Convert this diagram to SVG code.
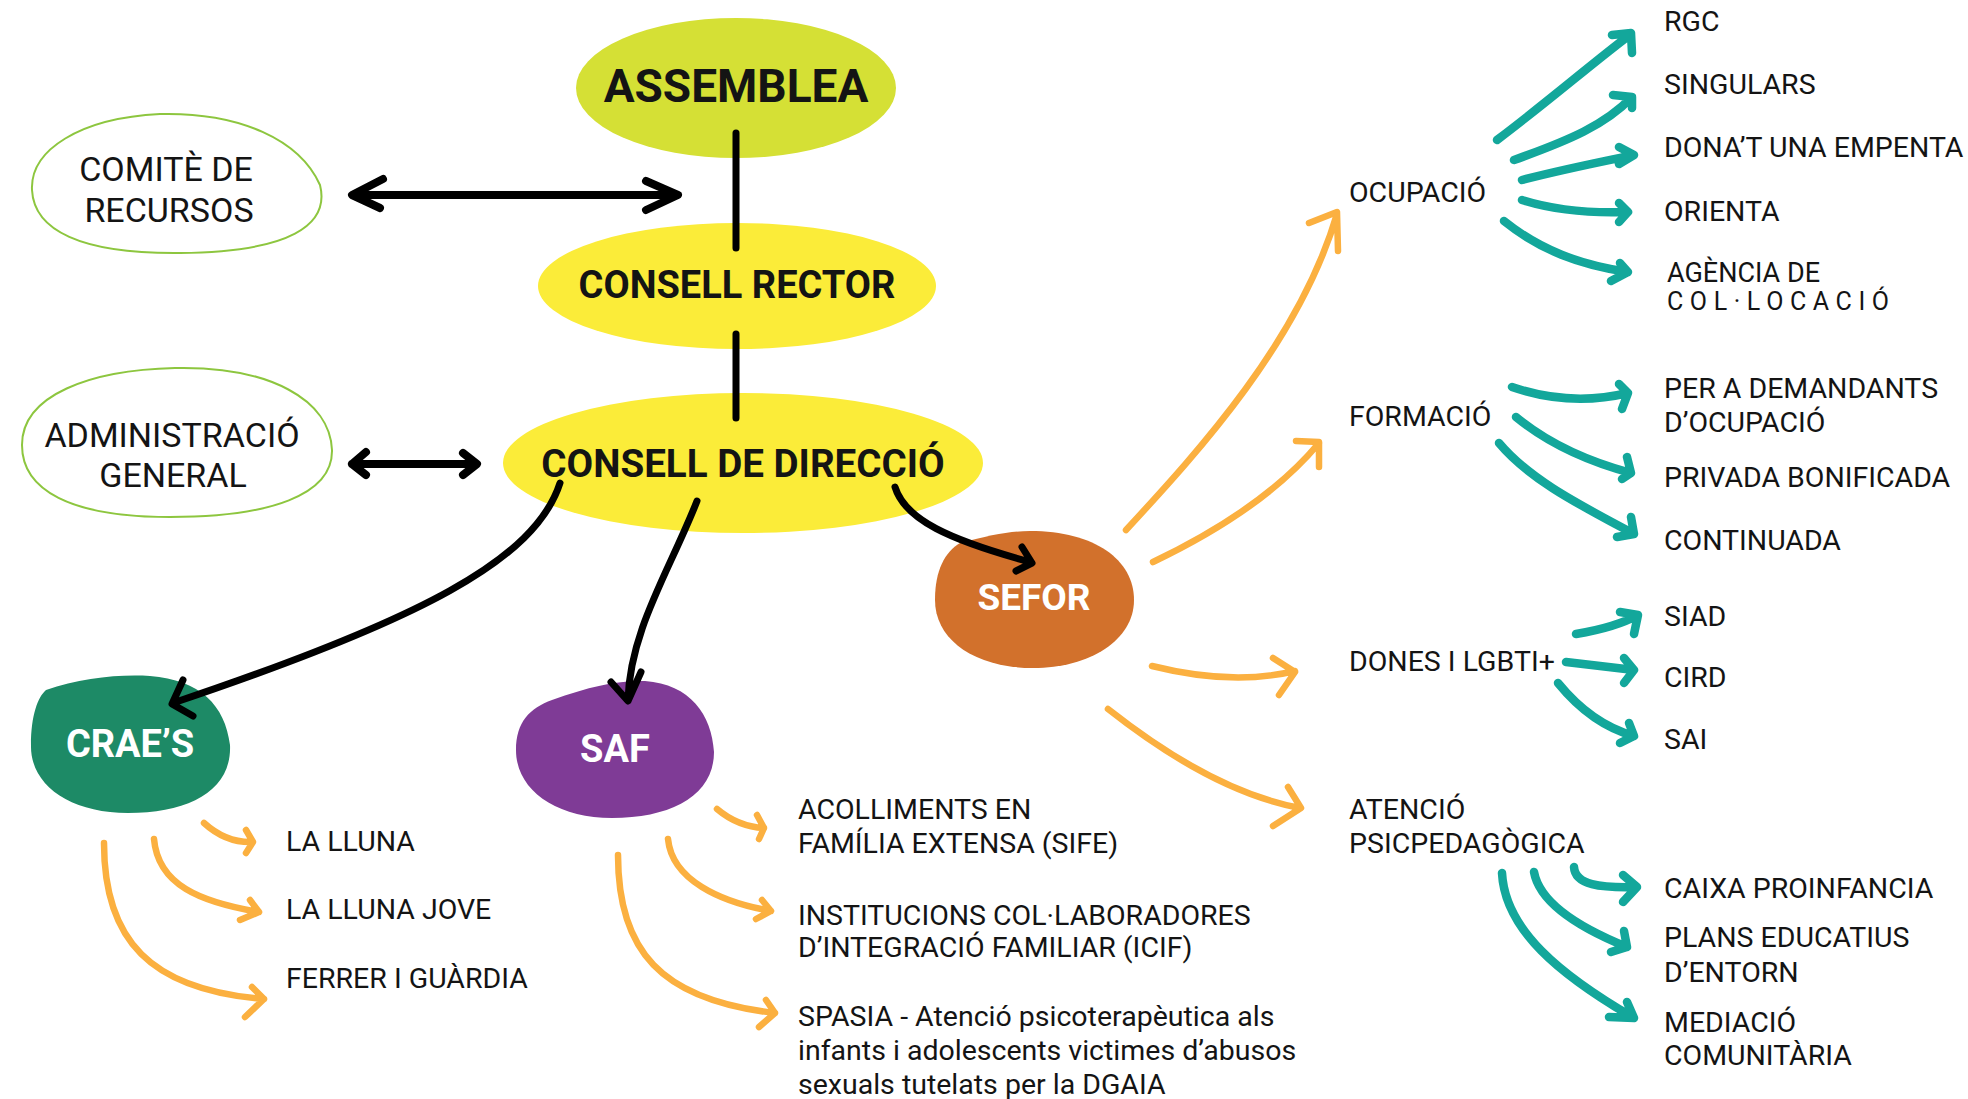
<svg xmlns="http://www.w3.org/2000/svg" width="1968" height="1099" viewBox="0 0 1968 1099">
<style>
text{font-family:Roboto,"Liberation Sans",sans-serif;fill:#141414}
.r{font-size:28.5px}
.b{font-weight:700;text-anchor:middle}
.c{font-weight:400;text-anchor:middle;font-size:34px}
.w{fill:#fff}
.ln{fill:none;stroke-linecap:round;stroke-linejoin:round}
.k{stroke:#000;stroke-width:7}
.o{stroke:#fbb040;stroke-width:6.5}
.t{stroke:#13a79b;stroke-width:8.5}
.out{fill:#fff;stroke:#8dc63f;stroke-width:2}
</style>
<rect width="1968" height="1099" fill="#fff"/>
<g id="assemblea"><ellipse cx="736" cy="88" rx="160" ry="70" fill="#d5e035"/><text class="b" x="736" y="102" font-size="46">ASSEMBLEA</text></g>
<g id="consell-rector"><ellipse cx="737" cy="286" rx="199" ry="63" fill="#fbec39"/><text class="b" x="737" y="298" font-size="38">CONSELL RECTOR</text></g>
<g id="consell-direccio"><ellipse cx="743" cy="463" rx="240" ry="70" fill="#fbec39"/><text class="b" x="743" y="477" font-size="38.6">CONSELL DE DIRECCIÓ</text></g>
<g id="comite"><path class="out" d="M32,190 C30,150 80,118 160,114 C240,112 300,140 320,185 C330,225 290,252 180,253 C80,254 34,230 32,190 Z"/><text class="c" x="166" y="181">COMITÈ DE</text><text class="c" x="169" y="222">RECURSOS</text></g>
<g id="administracio"><path class="out" d="M22,445 C22,395 90,370 175,368 C270,366 330,400 332,450 C333,495 270,517 170,517 C70,517 22,490 22,445 Z"/><text class="c" x="172" y="447">ADMINISTRACIÓ</text><text class="c" x="173" y="487">GENERAL</text></g>
<g id="sefor"><path d="M960,543 C990,535 1010,531 1030,531 C1095,531 1134,560 1134,600 C1134,640 1090,668 1033,668 C975,668 935,640 935,600 C935,570 945,552 960,543 Z" fill="#d2712c"/><text class="b w" x="1034" y="610" font-size="37">SEFOR</text></g>
<g id="craes"><path d="M46,690 C80,678 120,674 150,676 C200,680 225,705 230,745 C232,790 190,813 128,813 C70,813 30,785 31,745 C31,715 38,697 46,690 Z" fill="#1d8a66"/><text class="b w" x="130" y="757" font-size="38">CRAE’S</text></g>
<g id="saf"><path d="M552,700 C590,686 620,680 645,681 C690,684 712,715 714,752 C714,795 672,818 612,818 C556,818 516,790 516,750 C516,722 530,708 552,700 Z" fill="#7f3b96"/><text class="b w" x="615" y="762" font-size="38">SAF</text></g>
<g id="labels" class="r">
<text x="1664" y="31">RGC</text>
<text x="1664" y="94">SINGULARS</text>
<text x="1664" y="157">DONA’T UNA EMPENTA</text>
<text x="1664" y="221">ORIENTA</text>
<text x="1667" y="282" font-size="27">AGÈNCIA DE</text>
<text x="1667" y="310" font-size="25" letter-spacing="6.6">COL·LOCACIÓ</text>
<text x="1349" y="202">OCUPACIÓ</text>
<text x="1349" y="426">FORMACIÓ</text>
<text x="1664" y="398">PER A DEMANDANTS</text>
<text x="1664" y="432">D’OCUPACIÓ</text>
<text x="1664" y="487">PRIVADA BONIFICADA</text>
<text x="1664" y="550">CONTINUADA</text>
<text x="1349" y="671">DONES I LGBTI+</text>
<text x="1664" y="626">SIAD</text>
<text x="1664" y="687">CIRD</text>
<text x="1664" y="749">SAI</text>
<text x="1349" y="819">ATENCIÓ</text>
<text x="1349" y="853">PSICPEDAGÒGICA</text>
<text x="1664" y="898">CAIXA PROINFANCIA</text>
<text x="1664" y="947">PLANS EDUCATIUS</text>
<text x="1664" y="982">D’ENTORN</text>
<text x="1664" y="1032">MEDIACIÓ</text>
<text x="1664" y="1065">COMUNITÀRIA</text>
<text x="286" y="851">LA LLUNA</text>
<text x="286" y="919">LA LLUNA JOVE</text>
<text x="286" y="988">FERRER I GUÀRDIA</text>
<text x="798" y="819">ACOLLIMENTS EN</text>
<text x="798" y="853">FAMÍLIA EXTENSA (SIFE)</text>
<text x="798" y="925">INSTITUCIONS COL·LABORADORES</text>
<text x="798" y="957">D’INTEGRACIÓ FAMILIAR (ICIF)</text>
<text x="798" y="1026">SPASIA - Atenció psicoterapèutica als</text>
<text x="798" y="1060">infants i adolescents victimes d’abusos</text>
<text x="798" y="1094">sexuals tutelats per la DGAIA</text>
</g>
<g id="connectors">
<g class="ln k">
<path d="M736,133 L736,248"/>
<path d="M736,334 L736,418"/>
<path d="M353,195 L677,195 M383,179 L352,195 L380,208 M646,181 L678,195 L646,210" stroke-width="8"/>
<path d="M352,464 L476,464 M366,452 L352,464 L366,475 M463,453 L477,464 L463,475" stroke-width="8"/>
<path d="M560,483 C535,560 420,620 173,703 M183,680 L172,704 L193,716"/>
<path d="M697,501 C670,570 630,630 628,700 M611,682 L628,701 L641,672"/>
<path d="M895,487 C905,520 950,540 1030,562 M1022,547 L1032,563 L1016,571"/>
</g>
<g class="ln o">
<path d="M1126,530 C1200,450 1300,340 1337,214 M1309,223 L1337,212 L1338,251"/>
<path d="M1153,562 C1220,530 1280,490 1319,443 M1296,441 L1319,442 L1319,467"/>
<path d="M1152,666 C1200,678 1250,682 1295,671 M1273,658 L1295,672 L1279,695"/>
<path d="M1108,709 C1160,750 1230,795 1300,808 M1288,787 L1301,808 L1273,826"/>
<path d="M204,823 C215,833 230,843 253,842 M246,830 L253,842 L246,853"/>
<path d="M154,839 C158,885 200,902 259,912 M250,900 L259,912 L240,920"/>
<path d="M104,843 C104,940 150,990 264,999 M252,987 L264,999 L245,1017"/>
<path d="M717,809 C730,820 745,827 764,828 M757,815 L764,828 L759,839"/>
<path d="M668,839 C672,880 720,902 771,911 M762,900 L771,911 L756,919"/>
<path d="M618,855 C618,950 660,1000 775,1013 M766,1000 L775,1013 L759,1027"/>
</g>
<g class="ln t">
<path d="M1497,140 C1550,100 1590,65 1631,34 M1612,35 L1631,33 L1632,53"/>
<path d="M1514,160 C1570,140 1605,125 1632,97 M1613,95 L1632,97 L1632,108"/>
<path d="M1522,180 C1560,170 1600,162 1634,155 M1619,147 L1634,155 L1619,164"/>
<path d="M1522,200 C1560,212 1600,213 1628,212 M1619,203 L1628,212 L1619,222"/>
<path d="M1504,221 C1540,250 1580,265 1628,272 M1620,263 L1628,272 L1611,281"/>
<path d="M1512,387 C1550,400 1590,402 1628,393 M1619,384 L1628,393 L1622,409"/>
<path d="M1516,417 C1550,445 1590,462 1631,473 M1627,457 L1631,473 L1622,479"/>
<path d="M1499,443 C1530,480 1580,505 1634,534 M1631,517 L1634,534 L1617,537"/>
<path d="M1576,634 C1600,630 1620,625 1638,615 M1620,612 L1638,615 L1634,634"/>
<path d="M1566,662 C1590,665 1610,667 1634,670 M1624,658 L1634,670 L1624,683"/>
<path d="M1558,683 C1580,710 1605,728 1634,736 M1629,723 L1634,736 L1620,743"/>
<path d="M1574,867 C1575,885 1600,888 1637,887 M1623,875 L1637,887 L1623,902"/>
<path d="M1534,872 C1540,905 1585,930 1627,947 M1624,931 L1627,947 L1611,952"/>
<path d="M1502,873 C1505,930 1560,975 1634,1018 M1627,1002 L1634,1018 L1609,1017"/>
</g>
</g>
</svg>
